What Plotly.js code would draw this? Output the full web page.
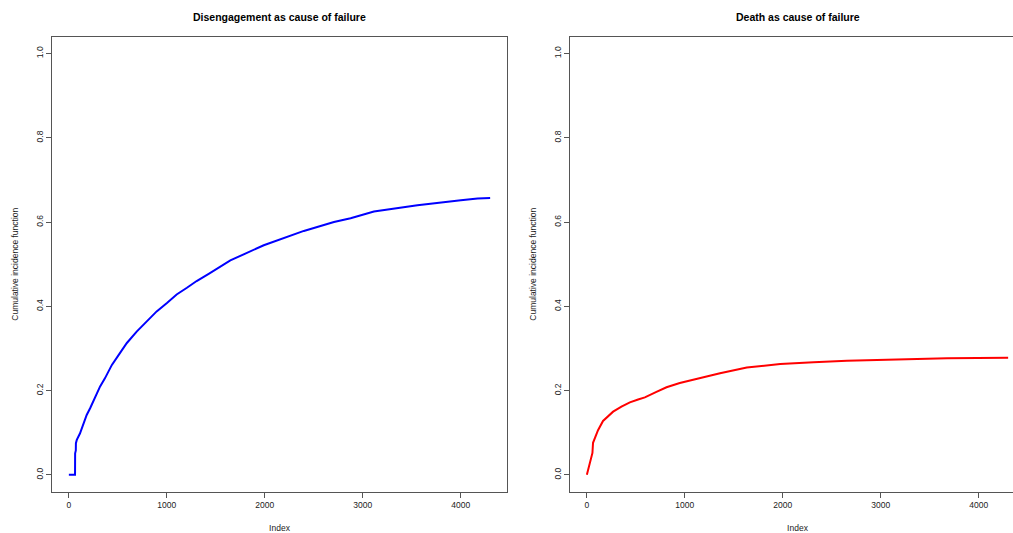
<!DOCTYPE html>
<html>
<head>
<meta charset="utf-8">
<script src="https://cdn.plot.ly/plotly-3.0.1.min.js"></script>
<style>
  html, body { margin: 0; padding: 0; overflow: hidden; background: #fff; }
  #chart { width: 1030px; height: 533px; }
</style>
</head>
<body>
<div id="chart"></div>
<script>
// Cumulative incidence by observation index, one panel per cause of failure
const disengageIndex = [1, 64, 65, 72, 73, 82, 114, 150, 183, 218, 250, 320, 369, 440, 522, 593, 693, 798, 897, 1002, 1101, 1206, 1305, 1428, 1649, 1990, 2399, 2706, 2876, 3114, 3558, 4001, 4172, 4300];
const disengageCif   = [0, 0, 0.051, 0.058, 0.075, 0.083, 0.098, 0.122, 0.142, 0.158, 0.174, 0.210, 0.229, 0.261, 0.289, 0.313, 0.340, 0.364, 0.388, 0.408, 0.428, 0.444, 0.460, 0.477, 0.509, 0.545, 0.579, 0.600, 0.609, 0.625, 0.640, 0.652, 0.656, 0.657];

const deathIndex = [1, 31, 48, 58, 64, 92, 115, 166, 218, 269, 354, 440, 524, 593, 711, 814, 949, 1019, 1155, 1360, 1633, 1974, 2314, 2655, 3166, 3678, 4300];
const deathCif   = [0, 0.028, 0.047, 0.052, 0.076, 0.092, 0.106, 0.128, 0.138, 0.150, 0.162, 0.172, 0.179, 0.184, 0.197, 0.208, 0.218, 0.222, 0.231, 0.241, 0.255, 0.263, 0.267, 0.271, 0.274, 0.277, 0.278];

const panelTitles = ['Disengagement as cause of failure', 'Death as cause of failure'];
const xTicks = [0, 1000, 2000, 3000, 4000];
const yTicks = [0, 0.2, 0.4, 0.6, 0.8, 1.0];
const yTickText = ['0.0', '0.2', '0.4', '0.6', '0.8', '1.0'];

const W = 1030, H = 533;
const lineCol = '#555555';
const textCol = '#222222';
const baseFont = { family: 'Liberation Sans, Arial, sans-serif', size: 8.5, color: textCol };

function xAxis(domain, anchor) {
  return {
    domain: domain, anchor: anchor,
    range: [-171, 4472], tickvals: xTicks, ticktext: xTicks.map(String),
    showline: true, mirror: true, linecolor: lineCol, linewidth: 1,
    ticks: 'outside', ticklen: 5, tickcolor: lineCol, tickwidth: 1,
    showgrid: false, zeroline: false, tickfont: baseFont,
    title: { text: 'Index', font: baseFont, standoff: 18 }
  };
}
function yAxis(domain, anchor) {
  return {
    domain: domain, anchor: anchor,
    range: [-0.04, 1.04], tickvals: yTicks, ticktext: yTickText, tickangle: -90,
    showline: true, mirror: true, linecolor: lineCol, linewidth: 1,
    ticks: 'outside', ticklen: 5, tickcolor: lineCol, tickwidth: 1,
    showgrid: false, zeroline: false, tickfont: baseFont,
    title: { text: 'Cumulative incidence function', font: baseFont, standoff: 14 }
  };
}

const yDom = [(H - 491.7) / H, (H - 36.7) / H];
const data = [
  { x: disengageIndex, y: disengageCif, type: 'scatter', mode: 'lines',
    line: { color: '#0000ff', width: 2 }, xaxis: 'x', yaxis: 'y', hoverinfo: 'skip' },
  { x: deathIndex, y: deathCif, type: 'scatter', mode: 'lines',
    line: { color: '#ff0000', width: 2 }, xaxis: 'x2', yaxis: 'y2', hoverinfo: 'skip' }
];

const layout = {
  width: W, height: H,
  margin: { l: 0, r: 0, t: 0, b: 0 },
  paper_bgcolor: '#ffffff', plot_bgcolor: '#ffffff',
  showlegend: false,
  xaxis: xAxis([52 / W, 507 / W], 'y'),
  yaxis: yAxis(yDom, 'x'),
  xaxis2: xAxis([570 / W, 1025 / W], 'y2'),
  yaxis2: yAxis(yDom, 'x2'),
  annotations: [
    { text: '<b>' + panelTitles[0] + '</b>', x: 279.5 / W, y: (H - 17) / H, xref: 'paper', yref: 'paper',
      showarrow: false, xanchor: 'center', yanchor: 'middle',
      font: { family: 'Liberation Sans, Arial, sans-serif', size: 10.5, color: '#000' } },
    { text: '<b>' + panelTitles[1] + '</b>', x: 797.5 / W, y: (H - 17) / H, xref: 'paper', yref: 'paper',
      showarrow: false, xanchor: 'center', yanchor: 'middle',
      font: { family: 'Liberation Sans, Arial, sans-serif', size: 10.5, color: '#000' } }
  ]
};

Plotly.newPlot('chart', data, layout, { displayModeBar: false, staticPlot: true });
</script>
</body>
</html>
